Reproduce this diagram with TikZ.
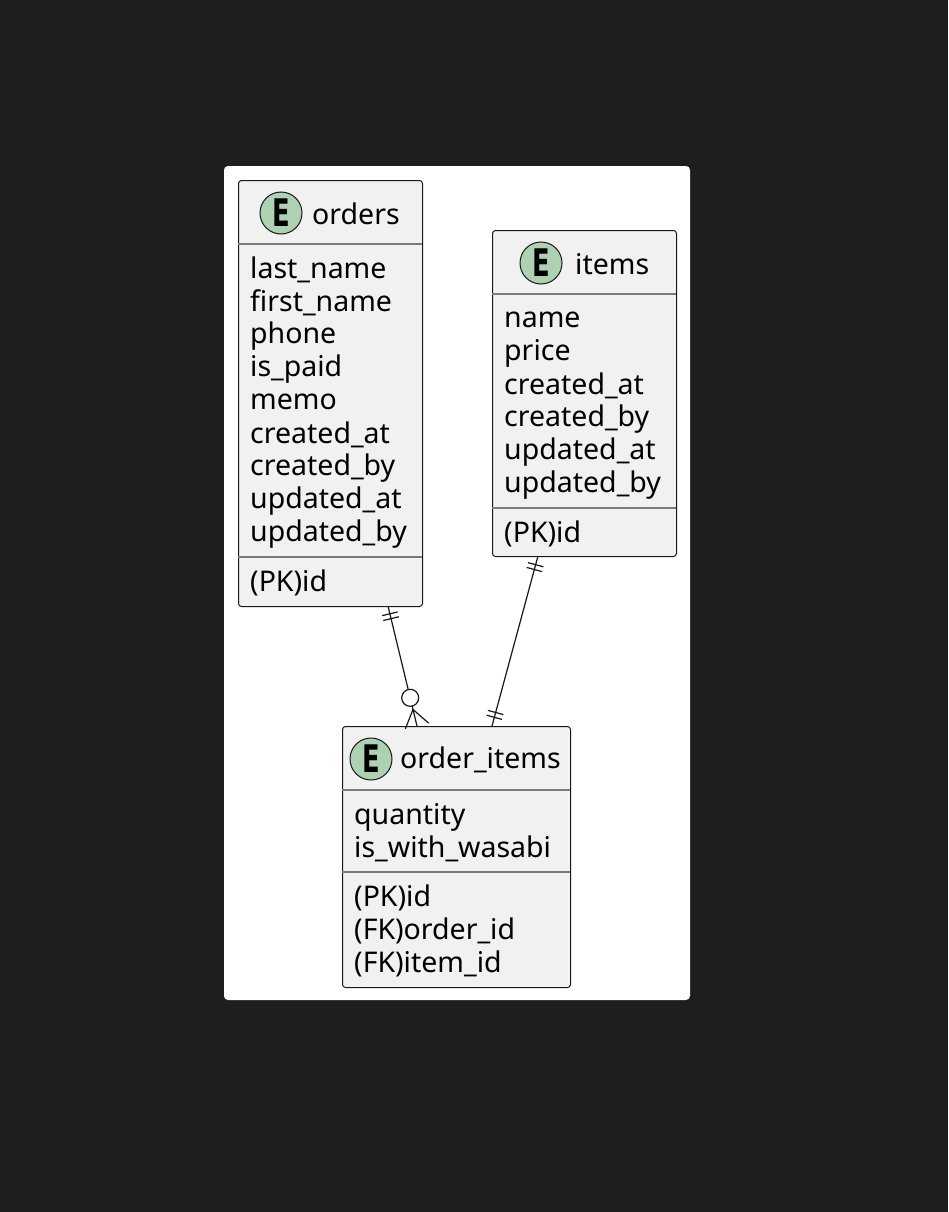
\documentclass[tikz,border=0pt]{standalone}
\usepackage{fontspec}
\setmainfont{Noto Sans}
\newfontfamily\emarkfont{DejaVu Sans}
\usetikzlibrary{calc}
\definecolor{bgdark}{HTML}{1E1E1E}
\definecolor{entfill}{HTML}{F1F1F1}
\definecolor{linec}{HTML}{181818}
\definecolor{sepc}{HTML}{7A7A7A}
\definecolor{ecirc}{HTML}{ADD1B2}
\newcommand{\emarkletter}{\scalebox{0.68}[1]{\emarkfont\bfseries\fontsize{38}{40}\selectfont E}}
\begin{document}
\begin{tikzpicture}[x=1pt,y=-1pt,
 entbox/.style={draw=linec, fill=entfill, rounded corners=3pt, line width=1pt, inner sep=0pt, anchor=north west},
 field/.style={anchor=west, inner sep=0pt, font=\fontsize{28.5}{30}\selectfont, text=black},
 etitle/.style={anchor=west, inner sep=0pt, font=\fontsize{28.5}{30}\selectfont, text=black},
 emark/.style={circle, draw=linec, fill=ecirc, line width=1pt, minimum size=42pt, inner sep=0pt},
 sepline/.style={draw=sepc, line width=1.2pt},
 rel/.style={draw=linec, line width=1.2pt}]
\useasboundingbox (0,0) rectangle (948,1212);
\fill[bgdark] (0,0) rectangle (948,1212);
\fill[white, rounded corners=4pt] (224,166) rectangle (690,1000);

% orders
\node[entbox, minimum width=184pt, minimum height=426pt] (orders) at (238,180) {};
\draw[sepline] (238,244) -- (422,244);
\draw[sepline] (238,557) -- (422,557);
\node[emark] (ordersE) at (281,213) {\emarkletter};
\node[etitle] (ordersT) at (312,214) {orders};
\foreach \t [count=\i from 0] in {last\_name,first\_name,phone,is\_paid,memo,created\_at,created\_by,updated\_at,updated\_by}
  \node[field] (of\i) at (250,{270+33*\i}) {\t};
\node[field] (opk) at (250,583) {(PK)id};

% items
\node[entbox, minimum width=184pt, minimum height=326pt] (items) at (492,230) {};
\draw[sepline] (492,294) -- (676,294);
\draw[sepline] (492,508) -- (676,508);
\node[emark] (itemsE) at (541,263) {\emarkletter};
\node[etitle] (itemsT) at (575,264) {items};
\foreach \t [count=\i from 0] in {name,price,created\_at,created\_by,updated\_at,updated\_by}
  \node[field] (if\i) at (504,{320+33*\i}) {\t};
\node[field] (ipk) at (504,534) {(PK)id};

% order_items
\node[entbox, minimum width=228pt, minimum height=261pt] (oi) at (342,726) {};
\draw[sepline] (342,790) -- (570,790);
\draw[sepline] (342,872) -- (570,872);
\node[emark] (oiE) at (371,759) {\emarkletter};
\node[etitle] (oiT) at (400,760) {order\_items};
\node[field] (oif0) at (354,817) {quantity};
\node[field] (oif1) at (354,849) {is\_with\_wasabi};
\node[field] (oif2) at (354,898) {(PK)id};
\node[field] (oif3) at (354,931) {(FK)order\_id};
\node[field] (oif4) at (354,964) {(FK)item\_id};

% orders -- order_items
\coordinate (o1) at (388,606);
\coordinate (o2) at (417,726);
\draw[rel] (o1) -- (o2);
\foreach \d in {8,13}{
  \coordinate (ob) at ($(o1)!\d pt!(o2)$);
  \draw[rel] ($(ob)!8pt!90:(o2)$) -- ($(ob)!8pt!-90:(o2)$);
}
\coordinate (oapex) at ($(o2)!17pt!(o1)$);
\draw[rel] ($(o2)!12pt!90:(o1)$) -- (oapex) -- ($(o2)!12pt!-90:(o1)$);
\coordinate (occ) at ($(o2)!29pt!(o1)$);
\draw[rel, fill=white] (occ) circle (8.5pt);

% items -- order_items
\coordinate (i1) at (538,556);
\coordinate (i2) at (492,726);
\draw[rel] (i1) -- (i2);
\foreach \d in {9,14}{
  \coordinate (ib) at ($(i1)!\d pt!(i2)$);
  \draw[rel] ($(ib)!8pt!90:(i2)$) -- ($(ib)!8pt!-90:(i2)$);
  \coordinate (ic) at ($(i2)!\d pt!(i1)$);
  \draw[rel] ($(ic)!8pt!90:(i1)$) -- ($(ic)!8pt!-90:(i1)$);
}
\end{tikzpicture}
\end{document}
